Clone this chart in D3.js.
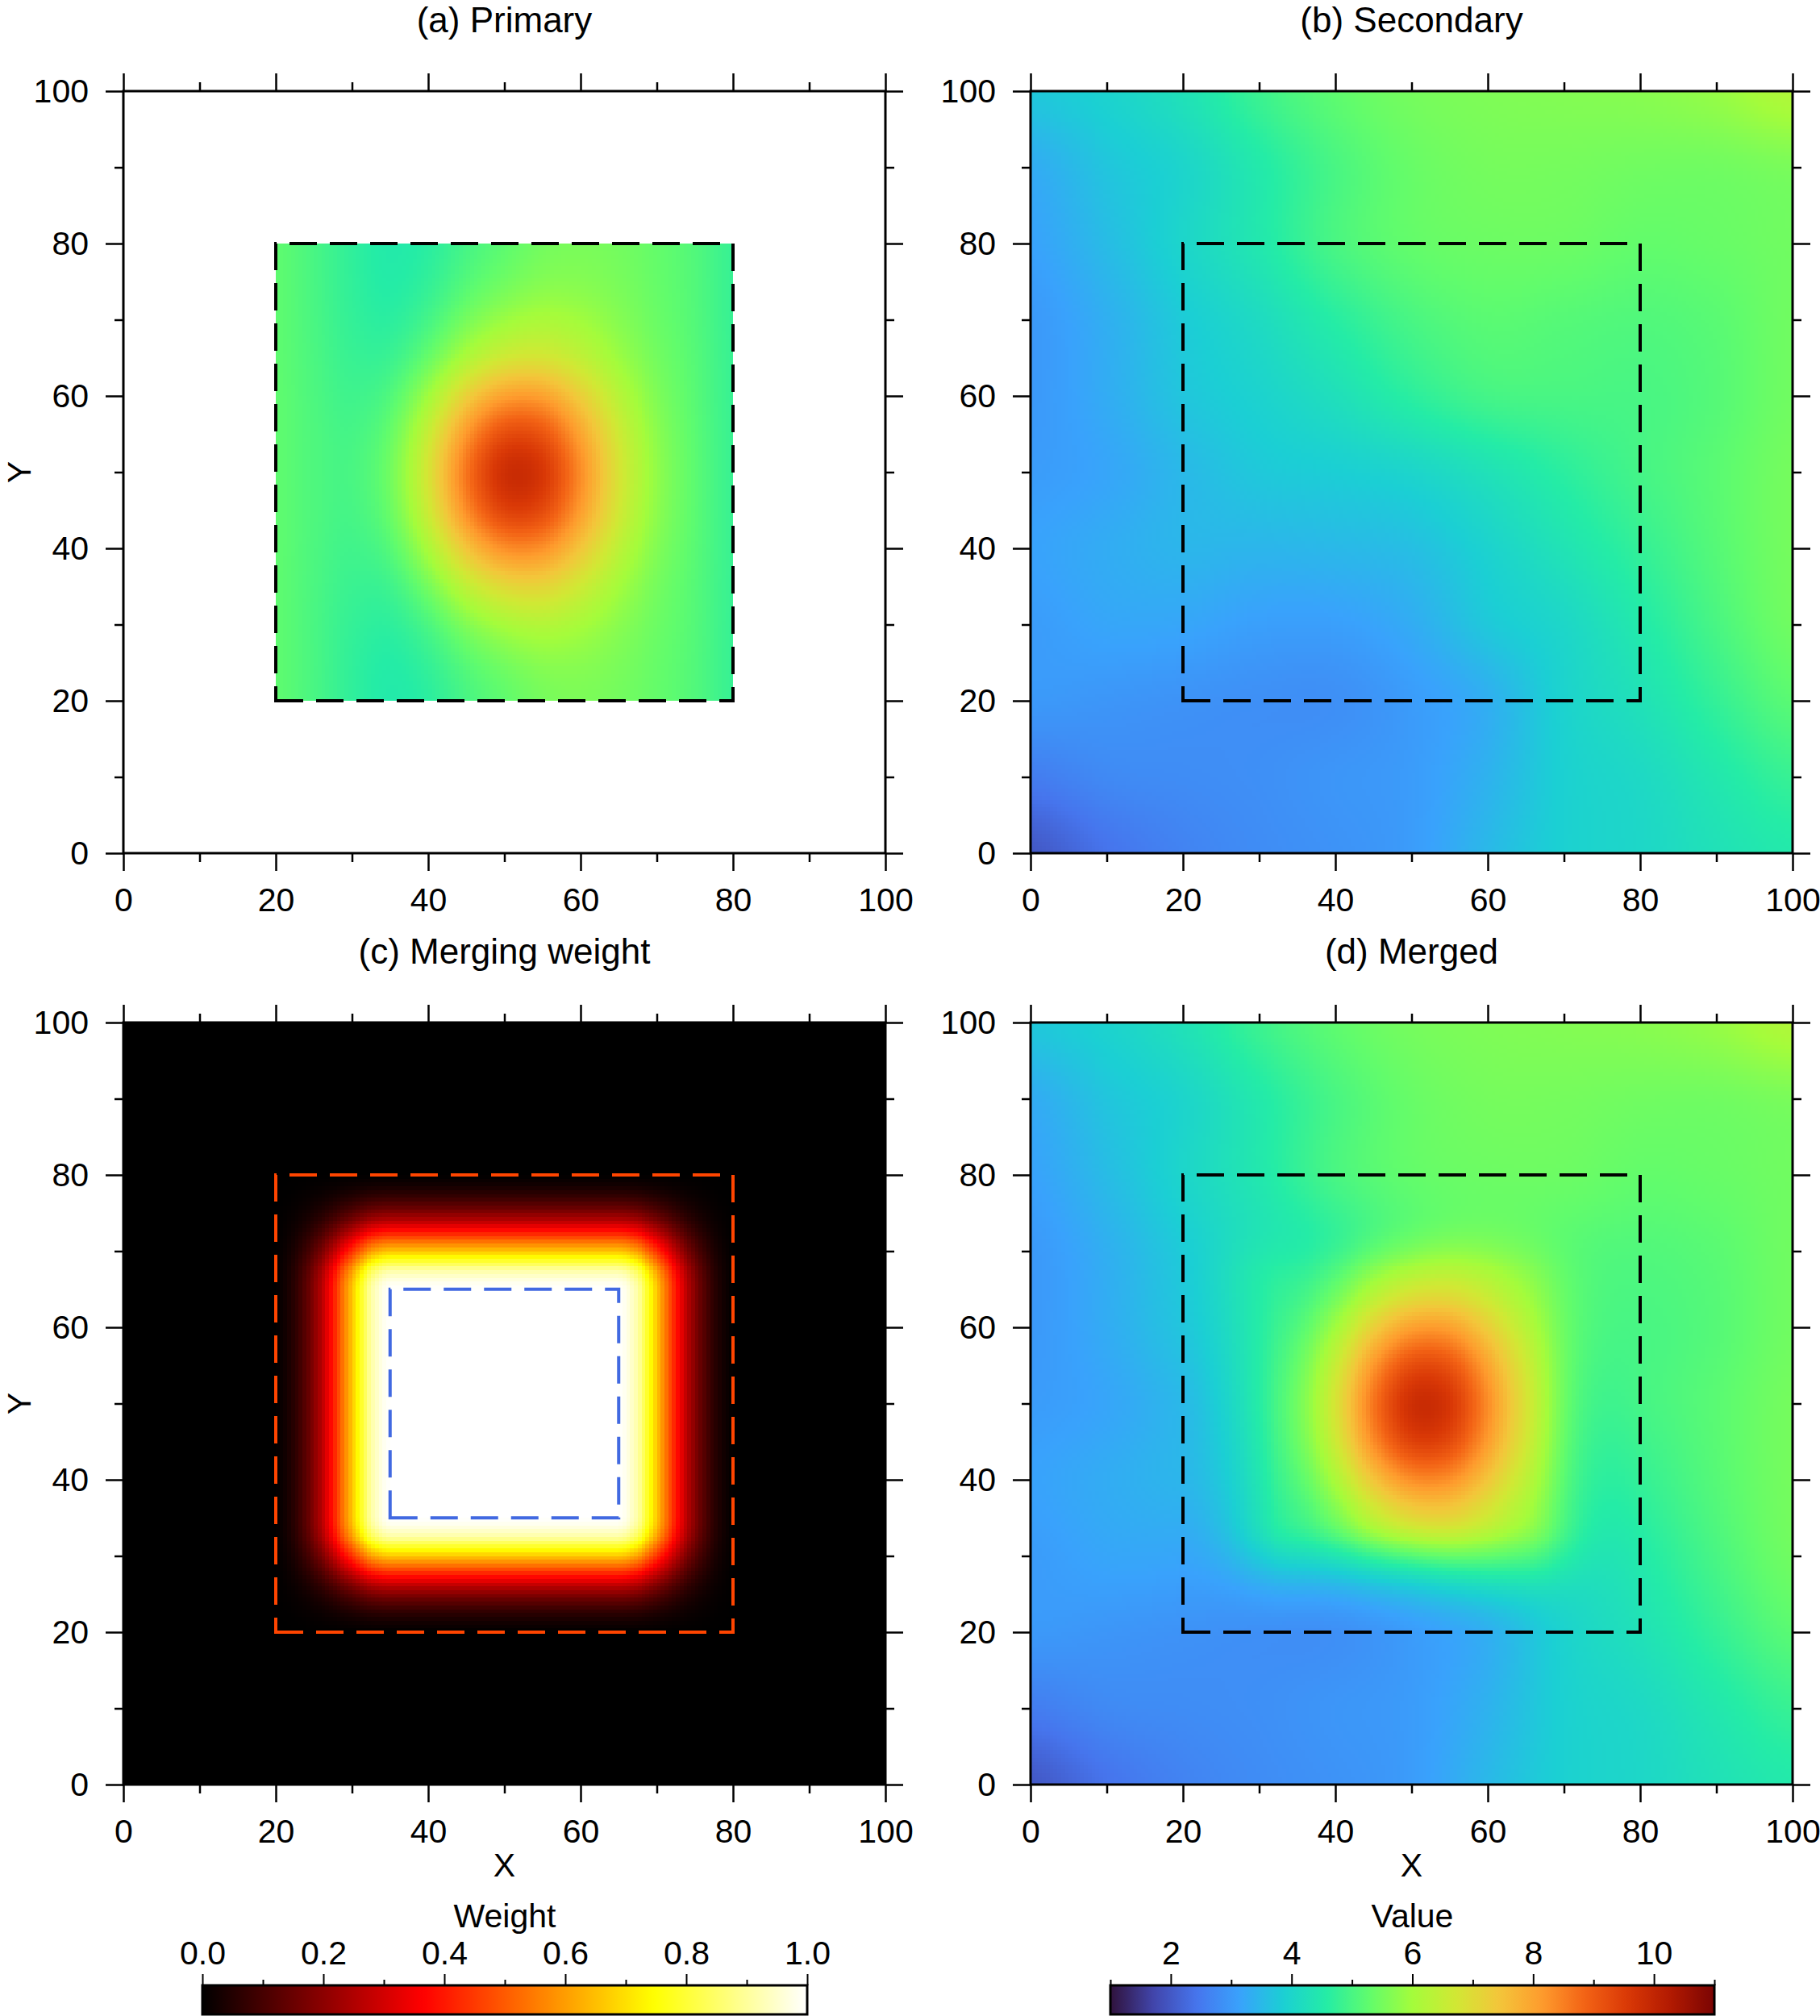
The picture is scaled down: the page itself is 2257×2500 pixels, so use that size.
<!DOCTYPE html>
<html>
<head>
<meta charset="utf-8">
<script src="https://cdn.jsdelivr.net/npm/d3@7"></script>
<style>
  body { margin: 0; background: #fff; }
  svg text { font-family: "Liberation Sans", Arial, Helvetica, sans-serif; }
</style>
</head>
<body>
<div id="chart-area"></div>
<script>
// ---- dados ----

// eixos dos paineis
const axisMajor = [0, 20, 40, 60, 80, 100]
const axisMinor = [10, 30, 50, 70, 90]

// campo secundario: grade de 10 em 10 (linhas de y=100 ate y=0)
const secX = [0, 10, 20, 30, 40, 50, 60, 70, 80, 90, 100]
const secY = [100, 90, 80, 70, 60, 50, 40, 30, 20, 10, 0]
const secondary = [
  [3.75, 3.95, 4.30, 4.85, 5.25, 5.50, 5.60, 5.65, 5.70, 5.85, 6.20],
  [3.30, 3.70, 4.00, 4.50, 5.00, 5.35, 5.50, 5.50, 5.45, 5.45, 5.55],
  [3.15, 3.55, 4.00, 4.45, 5.00, 5.30, 5.40, 5.40, 5.30, 5.35, 5.45],
  [3.00, 3.35, 3.80, 4.15, 4.60, 5.00, 5.20, 5.15, 5.10, 5.20, 5.45],
  [3.00, 3.30, 3.70, 3.95, 4.25, 4.65, 4.95, 5.00, 5.00, 5.15, 5.45],
  [3.05, 3.20, 3.50, 3.75, 3.85, 4.00, 4.30, 4.65, 4.95, 5.20, 5.50],
  [3.15, 3.30, 3.45, 3.45, 3.50, 3.60, 3.95, 4.35, 4.75, 5.15, 5.50],
  [3.05, 3.20, 3.20, 3.10, 3.10, 3.30, 3.75, 4.05, 4.50, 5.00, 5.45],
  [3.00, 2.95, 2.90, 2.85, 2.85, 3.05, 3.35, 3.95, 4.30, 4.75, 5.20],
  [2.55, 2.75, 2.80, 2.85, 2.95, 3.05, 3.40, 3.90, 4.10, 4.45, 4.80],
  [2.00, 2.40, 2.65, 2.80, 2.90, 3.05, 3.50, 3.90, 4.05, 4.30, 4.50]
]

// campo primario: so existe dentro de [20,80], grade de 5 em 5 (linhas de y=80 ate y=20)
const priX = [20, 25, 30, 35, 40, 45, 50, 55, 60, 65, 70, 75, 80]
const priY = [80, 75, 70, 65, 60, 55, 50, 45, 40, 35, 30, 25, 20]
const primary = [
  [5.25, 5.00, 4.71, 4.52, 4.64, 4.97, 5.24, 5.48, 5.55, 5.48, 5.31, 5.10, 4.80],
  [5.25, 5.00, 4.72, 4.56, 4.74, 5.13, 5.44, 5.66, 5.67, 5.54, 5.33, 5.11, 4.80],
  [5.25, 5.01, 4.75, 4.66, 4.96, 5.51, 5.91, 6.10, 5.97, 5.68, 5.38, 5.12, 4.80],
  [5.25, 5.03, 4.81, 4.84, 5.35, 6.15, 6.70, 6.80, 6.45, 5.92, 5.48, 5.15, 4.81],
  [5.26, 5.05, 4.89, 5.10, 5.97, 7.22, 8.03, 8.03, 7.26, 6.31, 5.61, 5.18, 4.81],
  [5.26, 5.07, 4.97, 5.34, 6.54, 8.17, 9.21, 9.10, 7.98, 6.67, 5.74, 5.21, 4.82],
  [5.26, 5.07, 5.01, 5.46, 6.80, 8.62, 9.77, 9.61, 8.32, 6.83, 5.80, 5.23, 4.82],
  [5.26, 5.07, 4.98, 5.38, 6.62, 8.32, 9.39, 9.26, 8.09, 6.72, 5.76, 5.22, 4.82],
  [5.26, 5.05, 4.91, 5.15, 6.10, 7.43, 8.29, 8.26, 7.42, 6.39, 5.64, 5.19, 4.82],
  [5.25, 5.03, 4.83, 4.89, 5.50, 6.42, 7.03, 7.12, 6.65, 6.01, 5.50, 5.15, 4.81],
  [5.25, 5.01, 4.76, 4.69, 5.03, 5.63, 6.06, 6.23, 6.05, 5.72, 5.40, 5.13, 4.80],
  [5.25, 5.01, 4.72, 4.57, 4.77, 5.18, 5.50, 5.72, 5.71, 5.56, 5.34, 5.11, 4.80],
  [5.25, 5.00, 4.71, 4.52, 4.65, 4.99, 5.26, 5.50, 5.57, 5.48, 5.31, 5.10, 4.80]
]

// peso de mesclagem: perfil em funcao da distancia ate a caixa interna [35,65]
const weightDist = [0, 1, 2.5, 3.75, 5, 6, 7, 8, 9, 10.5, 12, 13.5, 15]
const weightVals = [1, 0.98, 0.91, 0.79, 0.66, 0.56, 0.45, 0.35, 0.26, 0.16, 0.08, 0.03, 0]
const innerBox = [35, 65]
const outerBox = [20, 80]

// barras de cor
const valueDomain = [1, 11]
const valueMajor = [2, 4, 6, 8, 10]
const valueMinor = [1, 3, 5, 7, 9, 11]
const weightMajor = [0, 0.2, 0.4, 0.6, 0.8, 1.0]
const weightMinor = [0.1, 0.3, 0.5, 0.7, 0.9]

// paletas (turbo e hot)
const turboColors = ["#30123b", "#4145ab", "#4675ed", "#39a2fc", "#1bcfd4", "#24eca6", "#61fc6c",
  "#a4fc3b", "#d1e834", "#f3c63a", "#fe9b2d", "#f36315", "#d93806", "#b11901", "#7a0403"]
const turbo = d3.scaleLinear()
  .domain(turboColors.map((c, i) => valueDomain[0] + (valueDomain[1] - valueDomain[0]) * i / (turboColors.length - 1)))
  .range(turboColors)
  .clamp(true)
const hot = d3.scaleLinear()
  .domain([0, 0.365, 0.746, 1])
  .range(["#000000", "#ff0000", "#ffff00", "#ffffff"])
  .clamp(true)

// ---- interpolacao (so para desenhar suave) ----
function catmull(p0, p1, p2, p3, t) {
  return 0.5 * (2 * p1 + (-p0 + p2) * t + (2 * p0 - 5 * p1 + 4 * p2 - p3) * t * t + (-p0 + 3 * p1 - 3 * p2 + p3) * t * t * t)
}
function sampler(grid, xs, ys) {
  const fx = d3.scaleLinear().domain(xs).range(d3.range(xs.length)).clamp(true)
  const fy = d3.scaleLinear().domain(ys).range(d3.range(ys.length)).clamp(true)
  const nx = xs.length, ny = ys.length
  const cl = (v, n) => Math.max(0, Math.min(n - 1, v))
  return (x, y) => {
    const u = fx(x), v = fy(y)
    const i = Math.min(Math.floor(u), nx - 2), j = Math.min(Math.floor(v), ny - 2)
    const tu = u - i, tv = v - j
    const rows = [-1, 0, 1, 2].map(dj => {
      const r = grid[cl(j + dj, ny)]
      return catmull(r[cl(i - 1, nx)], r[cl(i, nx)], r[cl(i + 1, nx)], r[cl(i + 2, nx)], tu)
    })
    return catmull(rows[0], rows[1], rows[2], rows[3], tv)
  }
}
const secAt = sampler(secondary, secX, secY)
const priRaw = sampler(primary, priX, priY)
const inside = (x, y) => x >= outerBox[0] && x <= outerBox[1] && y >= outerBox[0] && y <= outerBox[1]
const priAt = (x, y) => inside(x, y) ? priRaw(x, y) : null
const profile = d3.scaleLinear().domain(weightDist).range(weightVals).clamp(true)
const weightAt = (x, y) => {
  const dx = Math.max(0, innerBox[0] - x, x - innerBox[1])
  const dy = Math.max(0, innerBox[0] - y, y - innerBox[1])
  return profile(dx) * profile(dy)
}
const mergedAt = (x, y) => {
  const s = secAt(x, y)
  if (!inside(x, y)) return s
  const w = weightAt(x, y)
  return w * priRaw(x, y) + (1 - w) * s
}

// ---- svg ----
const W = 2257, H = 2500
const size = 945
const fontSize = 41
const titleSize = 44
const svg = d3.select("#chart-area").append("svg")
  .attr("width", W)
  .attr("height", H)
  .attr("viewBox", `0 0 ${W} ${H}`)

const x = d3.scaleLinear().domain([0, 100]).range([0, size])
const y = d3.scaleLinear().domain([0, 100]).range([size, 0])

// gera a imagem do campo em celulas de 0.5
function fieldImage(fn, color) {
  const n = 200, step = 100 / n
  const canvas = document.createElement("canvas")
  canvas.width = n; canvas.height = n
  const ctx = canvas.getContext("2d")
  const img = ctx.createImageData(n, n)
  for (let j = 0; j < n; j++) {
    const yv = 100 - (j + 0.5) * step
    for (let i = 0; i < n; i++) {
      const xv = (i + 0.5) * step
      const v = fn(xv, yv)
      const k = (j * n + i) * 4
      if (v == null) { img.data[k + 3] = 0; continue }
      const c = d3.rgb(color(v))
      img.data[k] = c.r; img.data[k + 1] = c.g; img.data[k + 2] = c.b; img.data[k + 3] = 255
    }
  }
  ctx.putImageData(img, 0, 0)
  return canvas.toDataURL()
}

function dashedBox(g, box, color) {
  const p = d3.path()
  p.moveTo(x(box[0]), y(box[0]))
  p.lineTo(x(box[1]), y(box[0]))
  p.lineTo(x(box[1]), y(box[1]))
  p.lineTo(x(box[0]), y(box[1]))
  p.closePath()
  g.append("path")
    .attr("d", p.toString())
    .attr("fill", "none")
    .attr("stroke", color)
    .attr("stroke-width", 4)
    .attr("stroke-dasharray", "34,16")
}

function styleAxis(sel) {
  sel.select(".domain").remove()
  sel.attr("font-size", fontSize).attr("font-family", null)
  sel.selectAll("line").attr("stroke", "#000").attr("stroke-width", 2.5)
  sel.selectAll("text").attr("fill", "#000")
}

const panels = [
  { title: "(a) Primary", left: 153, top: 113, fn: priAt, color: turbo, boxes: [[outerBox, "#000"]], yLabel: true, xLabel: false },
  { title: "(b) Secondary", left: 1278, top: 113, fn: secAt, color: turbo, boxes: [[outerBox, "#000"]], yLabel: false, xLabel: false },
  { title: "(c) Merging weight", left: 153, top: 1268, fn: weightAt, color: hot, boxes: [[outerBox, "#ff4500"], [innerBox, "#4169e1"]], yLabel: true, xLabel: true },
  { title: "(d) Merged", left: 1278, top: 1268, fn: mergedAt, color: turbo, boxes: [[outerBox, "#000"]], yLabel: false, xLabel: true }
]

panels.forEach(p => {
  const g = svg.append("g").attr("transform", `translate(${p.left}, ${p.top})`)

  g.append("image")
    .attr("x", x(0)).attr("y", y(100))
    .attr("width", size).attr("height", size)
    .attr("preserveAspectRatio", "none")
    .attr("href", fieldImage(p.fn, p.color))
    .style("image-rendering", "pixelated")

  p.boxes.forEach(b => dashedBox(g, b[0], b[1]))

  g.append("rect")
    .attr("width", size).attr("height", size)
    .attr("fill", "none").attr("stroke", "#000").attr("stroke-width", 3)

  // eixos: maiores com rotulo (baixo/esquerda), menores e lados opostos sem rotulo
  g.append("g").attr("transform", `translate(0, ${size})`)
    .call(d3.axisBottom(x).tickValues(axisMajor).tickSize(22).tickPadding(21).tickFormat(d3.format("d"))).call(styleAxis)
  g.append("g").attr("transform", `translate(0, ${size})`)
    .call(d3.axisBottom(x).tickValues(axisMinor).tickSize(11).tickFormat("")).call(styleAxis)
  g.append("g")
    .call(d3.axisTop(x).tickValues(axisMajor).tickSize(22).tickFormat("")).call(styleAxis)
  g.append("g")
    .call(d3.axisTop(x).tickValues(axisMinor).tickSize(11).tickFormat("")).call(styleAxis)
  g.append("g")
    .call(d3.axisLeft(y).tickValues(axisMajor).tickSize(22).tickPadding(21).tickFormat(d3.format("d"))).call(styleAxis)
  g.append("g")
    .call(d3.axisLeft(y).tickValues(axisMinor).tickSize(11).tickFormat("")).call(styleAxis)
  g.append("g").attr("transform", `translate(${size}, 0)`)
    .call(d3.axisRight(y).tickValues(axisMajor).tickSize(22).tickFormat("")).call(styleAxis)
  g.append("g").attr("transform", `translate(${size}, 0)`)
    .call(d3.axisRight(y).tickValues(axisMinor).tickSize(11).tickFormat("")).call(styleAxis)

  g.append("text")
    .attr("x", size / 2).attr("y", -73)
    .attr("text-anchor", "middle").attr("font-size", titleSize)
    .text(p.title)

  if (p.xLabel) {
    g.append("text")
      .attr("x", size / 2).attr("y", size + 114)
      .attr("text-anchor", "middle").attr("font-size", fontSize)
      .text("X")
  }
  if (p.yLabel) {
    g.append("text")
      .attr("transform", `translate(${38 - p.left}, ${size / 2}) rotate(-90)`)
      .attr("text-anchor", "middle").attr("font-size", fontSize)
      .text("Y")
  }
})

// ---- barras de cor ----
const defs = svg.append("defs")
function colorbar(id, left, top, width, domain, color, major, minor, fmt, label) {
  const grad = defs.append("linearGradient").attr("id", id)
  d3.range(0, 101).forEach(k => {
    grad.append("stop")
      .attr("offset", k + "%")
      .attr("stop-color", color(domain[0] + (domain[1] - domain[0]) * k / 100))
  })
  const s = d3.scaleLinear().domain(domain).range([0, width])
  const g = svg.append("g").attr("transform", `translate(${left}, ${top})`)
  g.append("rect")
    .attr("width", width).attr("height", 36)
    .attr("fill", `url(#${id})`)
    .attr("stroke", "#000").attr("stroke-width", 3)
  g.append("g").call(d3.axisTop(s).tickValues(major).tickSize(14).tickPadding(12).tickFormat(fmt)).call(styleAxis)
  g.append("g").call(d3.axisTop(s).tickValues(minor).tickSize(7).tickFormat("")).call(styleAxis)
  g.selectAll("line").attr("stroke-width", 2)
  g.append("text")
    .attr("x", width / 2).attr("y", -72)
    .attr("text-anchor", "middle").attr("font-size", fontSize)
    .text(label)
}
colorbar("grad-weight", 251, 2462, 750, [0, 1], hot, weightMajor, weightMinor, d3.format(".1f"), "Weight")
colorbar("grad-value", 1377, 2462, 749, valueDomain, turbo, valueMajor, valueMinor, d3.format("d"), "Value")
</script>
</body>
</html>
